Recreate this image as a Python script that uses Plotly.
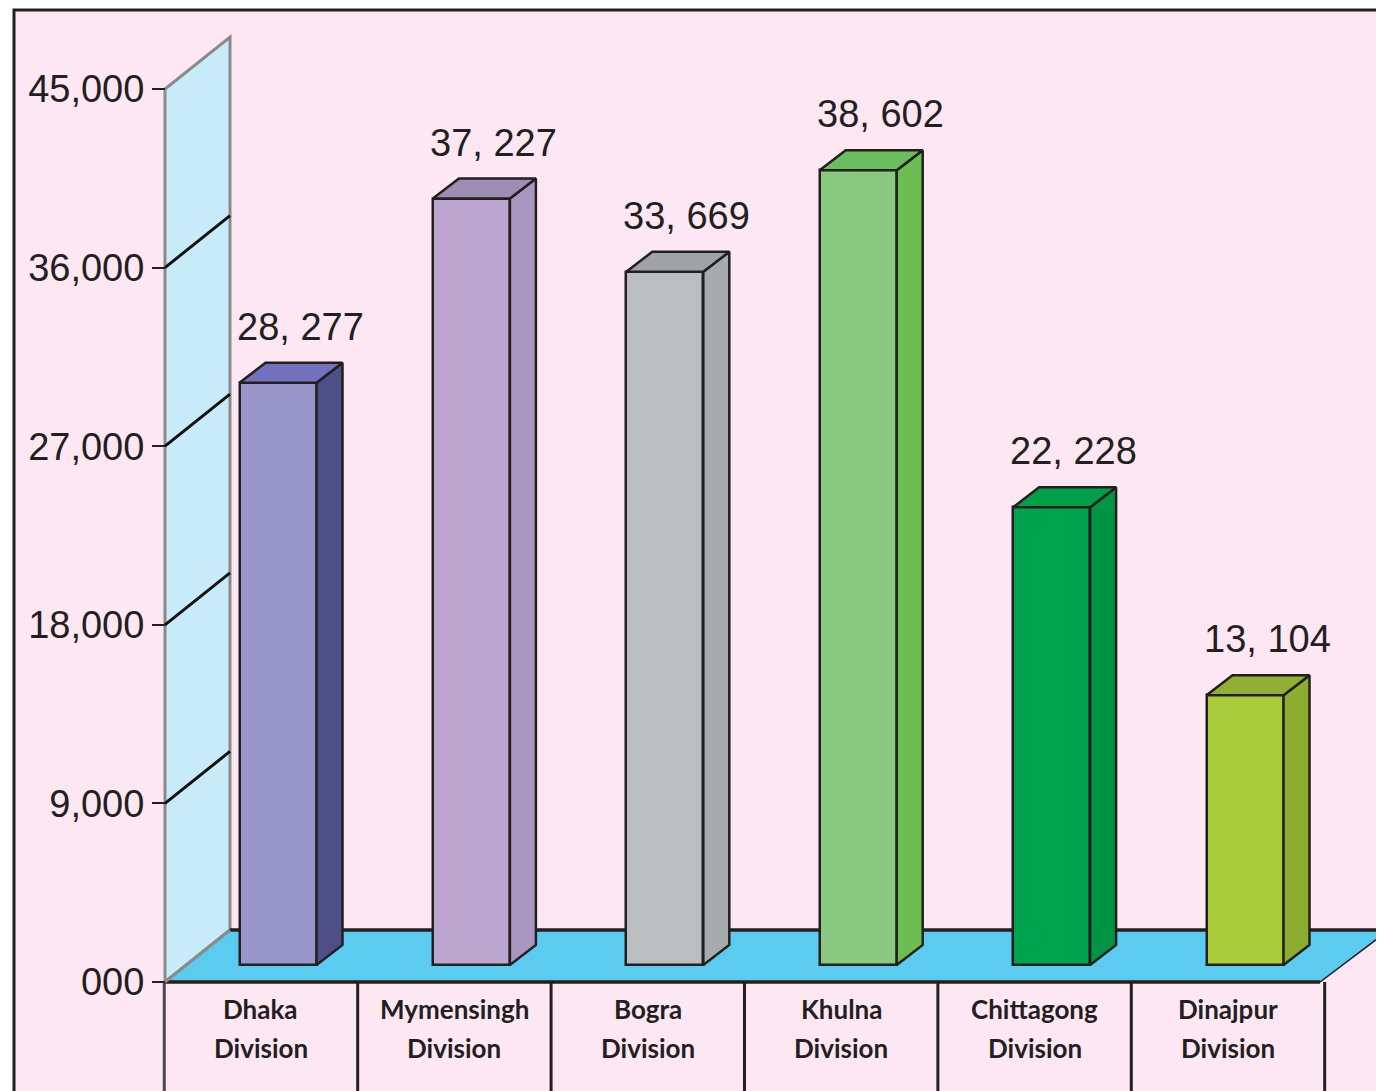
import plotly.graph_objects as go

# ---------------- data ----------------
categories = ["Dhaka<br>Division", "Mymensingh<br>Division", "Bogra<br>Division",
              "Khulna<br>Division", "Chittagong<br>Division", "Dinajpur<br>Division"]
values = [28277, 37227, 33669, 38602, 22228, 13104]
value_labels = ["28, 277", "37, 227", "33, 669", "38, 602", "22, 228", "13, 104"]
tick_vals = [0, 9000, 18000, 27000, 36000, 45000]
tick_text = ["000", "9,000", "18,000", "27,000", "36,000", "45,000"]

front_colors = ["#9795C9", "#BCA5CF", "#BBBEC1", "#88C97F", "#00A34D", "#A9CC3B"]
side_colors = ["#4F4F87", "#A896C0", "#A8ABAE", "#6CBE52", "#009445", "#8CAD2F"]
top_colors = ["#7472BE", "#9F8DB6", "#A0A3A6", "#6BBE5E", "#009F4A", "#8FB032"]

# ---------------- geometry (screen pixels) ----------------
W, H = 1384, 1091
OFF = 8                      # page body margin
FW, FH = W - OFF, H - OFF    # figure size
BAR_PITCH = 193.4
BAR_X0 = 278
AX_X, WALL_X = 165, 230
FRONT_Y0, FRONT_YTOP = 982, 89
DEPTH_DY = 52
BAR_Y0 = 965
BAR_SCALE = 0.02059
BAR_W_PX, SIDE_DX_PX, SIDE_DY_PX = 77, 26, 20
PANEL_Y = 982
RIGHT_X = 1320
INK = "#231F20"

idx = list(range(len(values)))

xr0 = -(BAR_X0 - OFF) / BAR_PITCH
xr1 = xr0 + FW / BAR_PITCH
u_per_px = 45000 / (FRONT_Y0 - FRONT_YTOP)
yr0 = -(H - FRONT_Y0) * u_per_px
yr1 = yr0 + FH * u_per_px
y2r0 = -(H - BAR_Y0) / BAR_SCALE
y2r1 = y2r0 + FH / BAR_SCALE

bw = BAR_W_PX / BAR_PITCH
sdx = SIDE_DX_PX / BAR_PITCH
sdy = SIDE_DY_PX / BAR_SCALE


def px(x):
    return (x - OFF) / FW


def py(y):
    return 1 - (y - OFF) / FH


def path(points):
    return "M " + " L ".join(f"{px(a)},{py(b)}" for a, b in points) + " Z"


fig = go.Figure()

for i, v in zip(idx, values):
    l, r = i - bw / 2, i + bw / 2
    fig.add_trace(go.Scatter(
        x=[r, r, r + sdx, r + sdx, r], y=[0, v, v + sdy, sdy, 0],
        mode="lines", fill="toself", fillcolor=side_colors[i],
        line=dict(color=INK, width=2.5), yaxis="y2",
        hoverinfo="skip", showlegend=False))
    fig.add_trace(go.Scatter(
        x=[l, r, r + sdx, l + sdx, l], y=[v, v, v + sdy, v + sdy, v],
        mode="lines", fill="toself", fillcolor=top_colors[i],
        line=dict(color=INK, width=2.5), yaxis="y2",
        hoverinfo="skip", showlegend=False))

fig.add_trace(go.Bar(
    x=idx, y=values, width=bw, yaxis="y2",
    marker=dict(color=front_colors, line=dict(color=INK, width=2.5)),
    hovertext=[c.replace("<br>", " ") for c in categories], showlegend=False))

shapes = []
shapes.append(dict(type="rect", xref="paper", yref="paper",
                   x0=px(14), x1=px(W + 20), y0=py(H + 20), y1=py(10),
                   fillcolor="#FDE7F2", line=dict(color=INK, width=3), layer="below"))
shapes.append(dict(type="path", xref="paper", yref="paper",
                   path=path([(AX_X, FRONT_Y0), (AX_X, FRONT_YTOP),
                              (WALL_X, FRONT_YTOP - DEPTH_DY), (WALL_X, FRONT_Y0 - DEPTH_DY)]),
                   fillcolor="#C8EBFA", line=dict(color="#8A8A8A", width=3), layer="below"))
shapes.append(dict(type="path", xref="paper", yref="paper",
                   path=path([(AX_X, FRONT_Y0), (WALL_X, FRONT_Y0 - DEPTH_DY),
                              (W + 5, FRONT_Y0 - DEPTH_DY), (RIGHT_X, FRONT_Y0)]),
                   fillcolor="#5BCBF0", line=dict(color=INK, width=1.5), layer="below"))
shapes.append(dict(type="line", xref="paper", yref="paper",
                   x0=px(WALL_X), x1=px(W + 5), y0=py(FRONT_Y0 - DEPTH_DY), y1=py(FRONT_Y0 - DEPTH_DY),
                   line=dict(color=INK, width=3.5), layer="below"))
shapes.append(dict(type="line", xref="paper", yref="paper",
                   x0=px(AX_X), x1=px(RIGHT_X), y0=py(PANEL_Y), y1=py(PANEL_Y),
                   line=dict(color=INK, width=3.5), layer="below"))
shapes.append(dict(type="line", xref="paper", yref="paper",
                   x0=px(AX_X), x1=px(WALL_X), y0=py(FRONT_Y0), y1=py(FRONT_Y0 - DEPTH_DY),
                   line=dict(color="#8A8A8A", width=3), layer="below"))
for t in tick_vals[1:-1]:
    shapes.append(dict(type="line", xref="paper", yref="y",
                       x0=px(AX_X), x1=px(WALL_X), y0=t, y1=t + DEPTH_DY * u_per_px,
                       line=dict(color="#111111", width=3), layer="below"))
for k in range(len(values) + 1):
    xk = k - 0.5 - 0.088
    shapes.append(dict(type="line", xref="x", yref="paper",
                       x0=xk, x1=xk, y0=py(H + 10), y1=py(PANEL_Y),
                       line=dict(color=INK if k else "#4A4A4A", width=3), layer="below"))

label_font = dict(family="Lato, Gill Sans, sans-serif", size=26, color=INK, weight="bold")
annotations = []
for i, v in zip(idx, values):
    annotations.append(dict(x=i, y=v, xref="x", yref="y2", text=value_labels[i],
                            showarrow=False, xshift=22, yshift=56,
                            font=dict(family="Liberation Sans, Arial, sans-serif", size=38, color=INK)))
    for j, line in enumerate(categories[i].split("<br>")):
        annotations.append(dict(x=i - 0.088, y=py(1009 + 39 * j), xref="x", yref="paper", text=line,
                                showarrow=False, yanchor="middle", font=label_font))

fig.update_layout(
    width=FW, height=FH,
    margin=dict(l=0, r=0, t=0, b=0),
    paper_bgcolor="white", plot_bgcolor="rgba(0,0,0,0)",
    bargap=0,
    xaxis=dict(range=[xr0, xr1], visible=False, domain=[0, 1], fixedrange=True),
    yaxis=dict(range=[yr0, yr1], domain=[0, 1], anchor="free", position=px(AX_X), side="left",
               tickvals=tick_vals, ticktext=tick_text, ticks="outside", ticklen=13,
               tickcolor=INK, tickwidth=1.5, showgrid=False, zeroline=False, showline=False,
               tickfont=dict(family="Liberation Sans, Arial, sans-serif", size=38, color=INK)),
    yaxis2=dict(range=[y2r0, y2r1], overlaying="y", visible=False),
    shapes=shapes,
    annotations=annotations,
)

fig.write_html("out.html")
